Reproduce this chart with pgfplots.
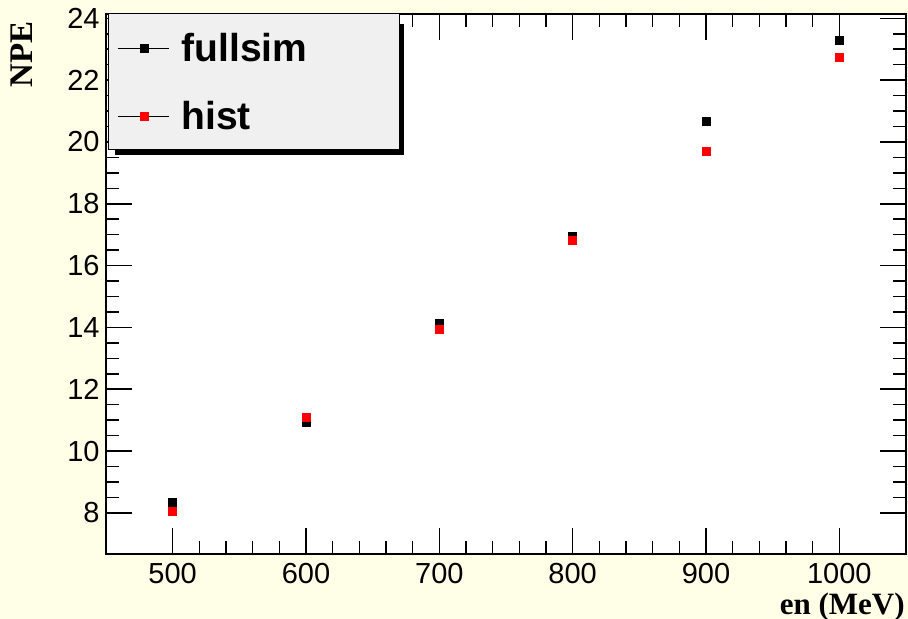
\documentclass[border=0pt]{standalone}
\usepackage{fontspec}
\setmainfont{Liberation Sans}
\newfontfamily\timesfont{Liberation Serif}
\usepackage{pgfplots}
\pgfplotsset{compat=1.18}
\definecolor{bgcream}{RGB}{255,254,230}
\definecolor{legfill}{RGB}{240,240,240}
\definecolor{rootred}{RGB}{255,0,0}
\begin{document}
\begin{tikzpicture}
\useasboundingbox (-53pt,-32.5pt) rectangle (401pt,277pt);
\fill[bgcream] (-53pt,-32.5pt) rectangle (401pt,277pt);
\begin{axis}[
  scale only axis, width=400pt, height=270pt,
  xmin=450, xmax=1050, ymin=6.67, ymax=24.14,
  axis background/.style={fill=white},
  axis line style={line width=1pt},
  xtick={500,600,...,1000}, ytick={8,10,...,24},
  minor x tick num=4, minor y tick num=3,
  major tick length=13pt, minor tick length=6.5pt,
  every tick/.style={black, line width=0.8pt},
  tick align=inside,
  /pgf/number format/assume math mode=true,
  /pgf/number format/1000 sep={},
  ticklabel style={font=\fontsize{14.5}{17}\selectfont},
  xticklabel style={inner ysep=0.5pt, yshift=-4pt},
  yticklabel style={inner xsep=3pt},
  xlabel={en (MeV)}, ylabel={NPE},
  every axis x label/.style={at={(axis description cs:1,0)}, anchor=base east, yshift=-30.5pt, inner sep=0.5pt, font=\timesfont\bfseries\fontsize{15.5}{18}\selectfont},
  every axis y label/.style={at={(axis description cs:-0.105,1)}, rotate=90, anchor=east, font=\timesfont\bfseries\fontsize{16.5}{19}\selectfont},
  legend style={at={(axis description cs:0,1)}, anchor=north west, xshift=5.5pt, yshift=-9.5pt,
    draw=none, fill=none, inner sep=0pt, row sep=20pt, column sep=6pt,
    font=\bfseries\fontsize{19.5}{23}\selectfont,
    nodes={inner sep=0pt, text height=14pt, text depth=0pt}},
  legend cell align=left,
  legend image code/.code={\draw[black,line width=0.6pt] (0pt,-0.5pt) -- (25.5pt,-0.5pt);
    \draw[#1] plot coordinates {(13pt,-0.5pt)};},
]
\fill[black] (axis description cs:0.01125,0.98148) rectangle (axis description cs:0.3725,0.73889);
\filldraw[fill=legfill, draw=black, line width=0.5pt] (axis description cs:0.0025,1) rectangle (axis description cs:0.36625,0.74815);
\addplot[only marks, mark=square*, mark size=2pt, black] coordinates {
  (500,8.33) (600,10.92) (700,14.14) (800,16.96) (900,20.68) (1000,23.29)};
\addlegendentry{fullsim}
\addplot[only marks, mark=square*, mark size=2pt, rootred, mark options={fill=rootred}] coordinates {
  (500,8.04) (600,11.10) (700,13.92) (800,16.80) (900,19.71) (1000,22.73)};
\addlegendentry{hist}
\end{axis}
\end{tikzpicture}
\end{document}
